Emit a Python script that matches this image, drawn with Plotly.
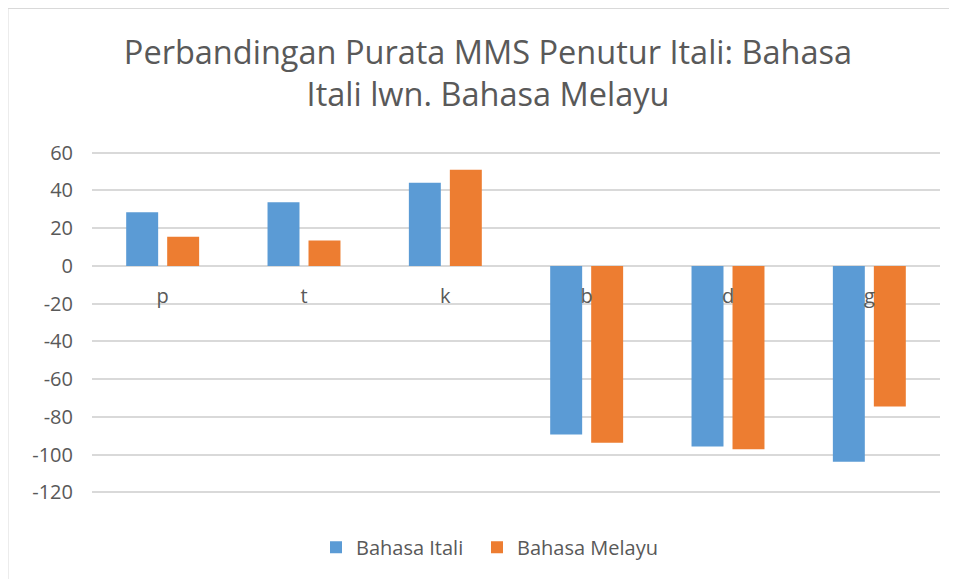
import plotly.graph_objects as go

categories = ["p", "t", "k", "b", "d", "g"]
bahasa_itali = [28.5, 33.8, 44.1, -89.4, -95.8, -103.9]
bahasa_melayu = [15.5, 13.5, 51.0, -93.8, -97.2, -74.5]
series_names = ["Bahasa Itali", "Bahasa Melayu"]
y_ticks = [60, 40, 20, 0, -20, -40, -60, -80, -100, -120]
title_text = "Perbandingan Purata MMS Penutur Itali: Bahasa<br>Itali lwn. Bahasa Melayu"

OFF = 8  # page body margin
W, H = 957 - OFF, 579 - OFF
YMIN, YMAX = -122, 62
scale = 1.885  # px per unit
top_px = 153 - (YMAX - 60) * scale
bot_px = 492 + (-120 - YMIN) * scale
L = 92 - OFF
R = W - (940 - OFF)
T = top_px - OFF
B = H - (bot_px - OFF)
pw, ph = W - L - R, H - T - B

def px_x(x):
    return (x - OFF - L) / pw

def px_y(y):
    return 1 + (T - (y - OFF)) / ph

grid = "#d9d9d9"
txt = "#595959"
font = "Open Sans"

fig = go.Figure()
fig.add_trace(go.Bar(x=categories, y=bahasa_itali, name=series_names[0],
                     marker=dict(color="#5B9BD5", line=dict(width=0)), legend="legend"))
fig.add_trace(go.Bar(x=categories, y=bahasa_melayu, name=series_names[1],
                     marker=dict(color="#ED7D31", line=dict(width=0)), legend="legend2"))

legend_common = dict(orientation="h", xanchor="left", xref="paper",
                     y=px_y(547), yanchor="middle",
                     font=dict(family=font, size=20, color=txt),
                     bgcolor="rgba(0,0,0,0)")

fig.update_layout(
    width=W, height=H,
    margin=dict(l=L, r=R, t=T, b=B, autoexpand=False),
    paper_bgcolor="white", plot_bgcolor="white",
    barmode="group", bargap=0.42, bargroupgap=0.22,
    font=dict(family=font, color=txt),
    title=dict(text=title_text, x=px_x(488), xref="paper", xanchor="center",
               y=1 - (73 - OFF - 9) / H, yref="container", yanchor="middle",
               font=dict(family=font, size=32.5, color=txt)),
    showlegend=True,
    legend=dict(x=px_x(316), **legend_common),
    legend2=dict(x=px_x(477), **legend_common),
    xaxis=dict(anchor="free", position=-YMIN / (YMAX - YMIN), showline=False, ticks="",
               showgrid=False, tickfont=dict(family=font, size=20, color=txt),
               ticklabelstandoff=16),
    yaxis=dict(range=[YMIN, YMAX], tickvals=y_ticks, ticktext=[str(v) for v in y_ticks],
               showgrid=True, gridcolor=grid, gridwidth=1.5,
               zeroline=True, zerolinecolor=grid, zerolinewidth=1.5,
               showline=False, ticks="", ticklabelstandoff=18,
               tickfont=dict(family=font, size=20, color=txt), domain=[0, 1]),
    shapes=[
        dict(type="line", xref="paper", yref="paper", x0=px_x(7.5), x1=px_x(960),
             y0=px_y(8.5), y1=px_y(8.5), line=dict(color=grid, width=2)),
        dict(type="line", xref="paper", yref="paper", x0=px_x(7.5), x1=px_x(7.5),
             y0=px_y(8.5), y1=px_y(585), line=dict(color=grid, width=2)),
    ],
)

fig.write_html("out.html")
